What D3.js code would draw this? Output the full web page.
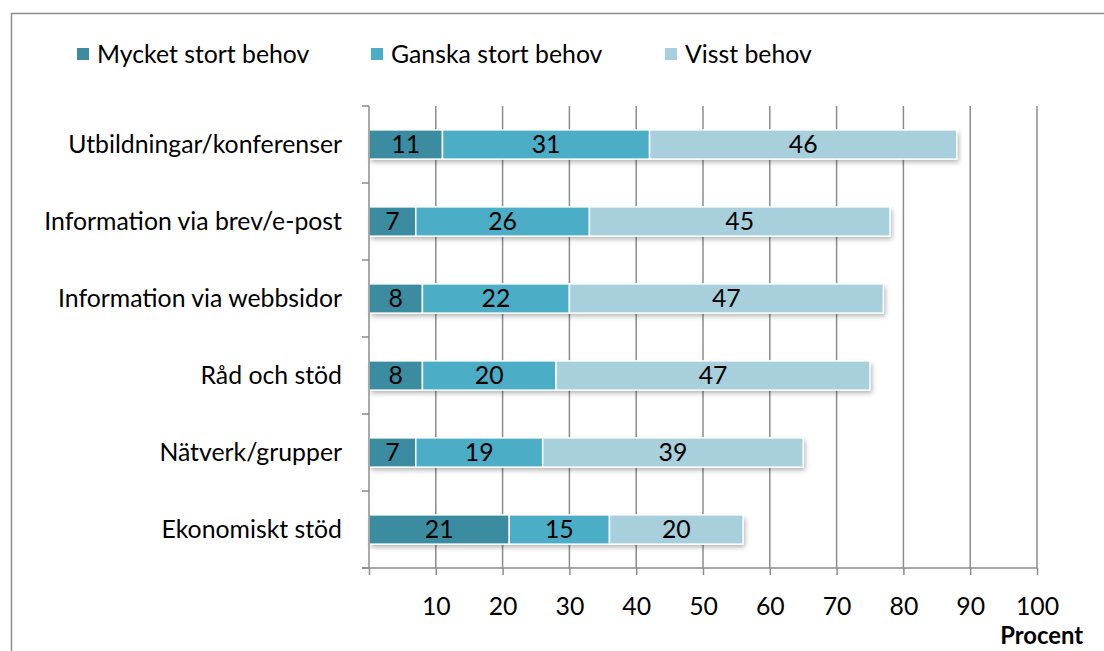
<!DOCTYPE html>
<html>
<head>
<meta charset="utf-8">
<script src="https://cdn.jsdelivr.net/npm/d3@7"></script>
<style>
  body { margin: 0; background: #fff; }
  svg { display: block; font-family: Lato, "Open Sans", sans-serif; }
</style>
</head>
<body>
<svg id="chart" width="1104" height="651"></svg>
<script>
const categories = ["Utbildningar/konferenser", "Information via brev/e-post", "Information via webbsidor", "Råd och stöd", "Nätverk/grupper", "Ekonomiskt stöd"];
const seriesNames = ["Mycket stort behov", "Ganska stort behov", "Visst behov"];
const mycketStort = [11, 7, 8, 8, 7, 21];
const ganskaStort = [31, 26, 22, 20, 19, 15];
const visst = [46, 45, 47, 47, 39, 20];
const xTicks = [10, 20, 30, 40, 50, 60, 70, 80, 90, 100];
const colors = ["#3c8ca1", "#4badc6", "#a8cfdc"];

const svg = d3.select("#chart");
const margin = {left: 369, right: 67, top: 106, bottom: 83};
const W = 1104, H = 651;
const FS = 24.8;

// outer frame
svg.append("rect")
	.attr("x", 11.5).attr("y", 13.5)
	.attr("width", 1110).attr("height", 660)
	.attr("fill", "none").attr("stroke", "#8c8c8c").attr("stroke-width", 1.5);

const defs = svg.append("defs");
const f = defs.append("filter").attr("id", "shadow")
	.attr("x", "-5%").attr("y", "-30%").attr("width", "115%").attr("height", "180%");
f.append("feDropShadow").attr("dx", 2).attr("dy", 3).attr("stdDeviation", 2.5)
	.attr("flood-color", "#000").attr("flood-opacity", 0.3);

const x = d3.scaleLinear().domain([0, 100]).range([margin.left, W - margin.right]);
const y = d3.scaleBand().domain(categories).range([margin.top, H - margin.bottom]).paddingInner(0.62).paddingOuter(0.31);
const yBand = d3.scaleBand().domain(categories).range([margin.top, H - margin.bottom]);

// gridlines
svg.append("g").selectAll("line").data(xTicks).enter().append("line")
	.attr("x1", d => x(d)).attr("x2", d => x(d))
	.attr("y1", margin.top).attr("y2", H - margin.bottom)
	.attr("stroke", "#8c8c8c").attr("stroke-width", 1.5);

// stacked bars
const rows = categories.map((c, i) => ({cat: c, vals: [mycketStort[i], ganskaStort[i], visst[i]]}));
const stackData = d3.stack().keys([0, 1, 2]).value((d, k) => d.vals[k])(rows);

const barsG = svg.append("g");
rows.forEach((r, i) => {
	const total = d3.sum(r.vals);
	barsG.append("rect")
		.attr("x", x(0)).attr("y", y(r.cat))
		.attr("width", x(total) - x(0)).attr("height", y.bandwidth())
		.attr("fill", "#fff").attr("filter", "url(#shadow)");
});

stackData.forEach((layer, k) => {
	barsG.append("g").selectAll("rect").data(layer).enter().append("rect")
		.attr("x", d => x(d[0]))
		.attr("y", d => y(d.data.cat))
		.attr("width", d => x(d[1]) - x(d[0]))
		.attr("height", y.bandwidth())
		.attr("fill", colors[k])
		.attr("stroke", "#fff").attr("stroke-width", 1.5);
	barsG.append("g").selectAll("text").data(layer).enter().append("text")
		.attr("x", d => (x(d[0]) + x(d[1])) / 2)
		.attr("y", d => y(d.data.cat) + y.bandwidth() / 2)
		.attr("dy", "0.36em")
		.attr("text-anchor", "middle")
		.attr("font-size", FS).attr("fill", "#000")
		.text(d => d.data.vals[k]);
});

// x axis
const xAxis = d3.axisBottom(x).tickValues([0].concat(xTicks)).tickSize(7).tickPadding(22)
	.tickFormat(d => d === 0 ? "" : d);
const gx = svg.append("g").attr("transform", `translate(0,${H - margin.bottom})`).call(xAxis);
gx.select(".domain").attr("d", `M${margin.left - 7},0H${x(100)}`);
gx.selectAll("line").attr("stroke", "#8c8c8c").attr("stroke-width", 1.5);
gx.select(".domain").attr("stroke", "#8c8c8c").attr("stroke-width", 1.5);
gx.selectAll("text").attr("font-size", FS).attr("fill", "#000").attr("font-family", "Lato, sans-serif");

// y axis
const yEdges = categories.map(c => yBand(c)).concat([H - margin.bottom]);
const gy = svg.append("g");
gy.append("line").attr("x1", margin.left).attr("x2", margin.left)
	.attr("y1", margin.top).attr("y2", H - margin.bottom)
	.attr("stroke", "#8c8c8c").attr("stroke-width", 1.5);
gy.selectAll("line.tk").data(yEdges).enter().append("line").attr("class", "tk")
	.attr("x1", margin.left - 7).attr("x2", margin.left)
	.attr("y1", d => d).attr("y2", d => d)
	.attr("stroke", "#8c8c8c").attr("stroke-width", 1.5);
gy.selectAll("text").data(categories).enter().append("text")
	.attr("x", 342)
	.attr("y", d => yBand(d) + yBand.bandwidth() / 2)
	.attr("dy", "0.36em")
	.attr("text-anchor", "end")
	.attr("font-size", FS).attr("fill", "#000")
	.text(d => d);

// axis title
svg.append("text").attr("x", 1083).attr("y", 635)
	.attr("dy", "0.36em")
	.attr("text-anchor", "end").attr("font-size", FS - 1).attr("font-weight", "bold")
	.text("Procent");

// legend
const legend = svg.append("g").selectAll("g").data(seriesNames).enter().append("g")
	.attr("transform", (d, i) => `translate(${77 + i * 294},48)`);
legend.append("rect").attr("width", 12).attr("height", 12).attr("fill", (d, i) => colors[i]);
legend.append("text").attr("x", 20).attr("y", 6).attr("dy", "0.36em")
	.attr("font-size", FS).attr("fill", "#000").text(d => d);
</script>
</body>
</html>
